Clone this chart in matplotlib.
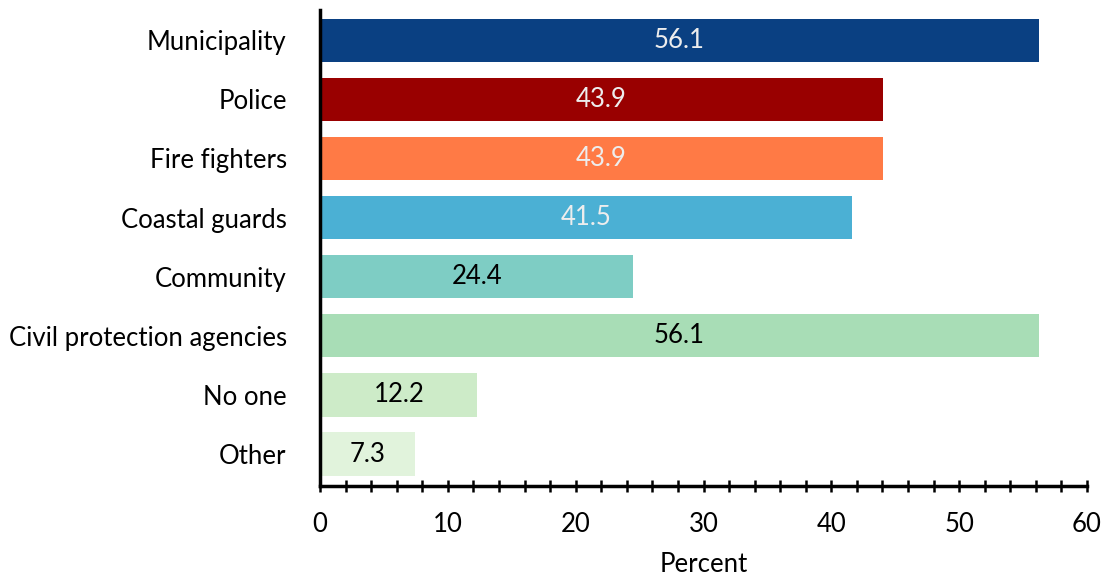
import matplotlib
matplotlib.use("Agg")
import matplotlib.pyplot as plt
from matplotlib.ticker import MultipleLocator

categories = ["Municipality", "Police", "Fire fighters", "Coastal guards",
              "Community", "Civil protection agencies", "No one", "Other"]
values = [56.1, 43.9, 43.9, 41.5, 24.4, 56.1, 12.2, 7.3]
colors = ["#0A4082", "#990000", "#FF7A45", "#4BB0D4", "#7ECDC4",
          "#A8DDB6", "#CDEBC8", "#E1F3DC"]
label_colors = ["#EDEDED", "#EDEDED", "#EDEDED", "#EDEDED",
                "black", "black", "black", "black"]
x_ticks = [0, 10, 20, 30, 40, 50, 60]

plt.rcParams['font.family'] = ['Lato', 'DejaVu Sans']

fig = plt.figure(figsize=(11.08, 5.78), dpi=100)
ax = fig.add_axes([320/1108, 1-486/578, (1087-320)/1108, (486-10)/578])

ypos = list(range(len(categories)))
bars = ax.barh(ypos, values, height=0.73, color=colors, left=0.12)
for y, v, lc in zip(ypos, values, label_colors):
    ax.text((v + 0.12) / 2, y, f"{v:.1f}", ha="center", va="center",
            fontsize=18.5, color=lc)

ax.set_ylim(7.54, -0.51)
ax.set_xlim(0, 60)
ax.set_yticks(ypos)
ax.set_yticklabels(categories, fontsize=18.5)
ax.set_xticks(x_ticks)
ax.set_xticklabels([str(t) for t in x_ticks], fontsize=18.5)
ax.xaxis.set_minor_locator(MultipleLocator(2))
ax.tick_params(axis="y", length=0, pad=24)
ax.tick_params(axis="x", which="both", direction="inout", length=9, width=1.8, pad=14)
ax.set_xlabel("Percent", fontsize=18.5, labelpad=11)
for s in ["top", "right"]:
    ax.spines[s].set_visible(False)
ax.spines["left"].set_linewidth(2.5)
ax.spines["bottom"].set_linewidth(2.5)

fig.savefig("out.png", dpi=100)
